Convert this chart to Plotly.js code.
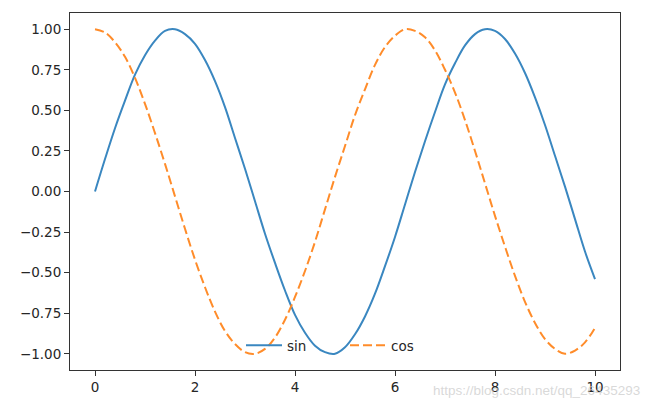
<!DOCTYPE html>
<html>
<head>
<meta charset="utf-8">
<script src="https://cdn.plot.ly/plotly-3.0.1.min.js"></script>
<style>html,body{margin:0;padding:0;background:#fff;}#chart{width:650px;height:408px;}</style>
</head>
<body>
<div id="chart"></div>
<script>
const xValues = [0,0.2,0.4,0.6,0.8,1.0,1.2,1.4,1.6,1.8,2.0,2.2,2.4,2.6,2.8,3.0,3.2,3.4,3.6,3.8,4.0,4.2,4.4,4.6,4.8,5.0,5.2,5.4,5.6,5.8,6.0,6.2,6.4,6.6,6.8,7.0,7.2,7.4,7.6,7.8,8.0,8.2,8.4,8.6,8.8,9.0,9.2,9.4,9.6,9.8,10.0];
const sinValues = [0.00,0.20,0.39,0.56,0.72,0.84,0.93,0.99,1.00,0.97,0.91,0.81,0.68,0.52,0.33,0.14,-0.06,-0.26,-0.44,-0.61,-0.76,-0.87,-0.95,-0.99,-1.00,-0.96,-0.88,-0.77,-0.63,-0.46,-0.28,-0.08,0.12,0.31,0.49,0.66,0.79,0.90,0.97,1.00,0.99,0.94,0.85,0.73,0.58,0.41,0.22,0.03,-0.17,-0.37,-0.54];
const cosValues = [1.00,0.98,0.92,0.83,0.70,0.54,0.36,0.17,-0.03,-0.23,-0.42,-0.59,-0.74,-0.86,-0.94,-0.99,-1.00,-0.97,-0.90,-0.79,-0.65,-0.49,-0.31,-0.11,0.09,0.28,0.47,0.63,0.78,0.89,0.96,1.00,0.99,0.95,0.87,0.75,0.61,0.44,0.25,0.05,-0.15,-0.34,-0.52,-0.68,-0.81,-0.91,-0.97,-1.00,-0.98,-0.93,-0.84];
const seriesNames = ['sin', 'cos'];
const xTicks = [0, 2, 4, 6, 8, 10];
const yTicks = [-1.00, -0.75, -0.50, -0.25, 0.00, 0.25, 0.50, 0.75, 1.00];
const yTickText = ['\u22121.00','\u22120.75','\u22120.50','\u22120.25','0.00','0.25','0.50','0.75','1.00'];

const traces = [
  {x: xValues, y: sinValues, name: seriesNames[0], mode: 'lines',
   line: {color: '#3a87c0', width: 2, shape: 'spline', smoothing: 1}},
  {x: xValues, y: cosValues, name: seriesNames[1], mode: 'lines',
   line: {color: '#ff8c2a', width: 2, dash: '9px,4px', shape: 'spline', smoothing: 1}}
];

const axisCommon = {
  showline: true, mirror: true, linecolor: '#333', linewidth: 1,
  ticks: 'outside', ticklen: 5, tickwidth: 1, tickcolor: '#333',
  showgrid: false, zeroline: false,
  tickfont: {family: 'DejaVu Sans', size: 13.5, color: '#262626'}
};

const layout = {
  width: 650, height: 408,
  margin: {l: 70, r: 30, t: 13, b: 38},
  paper_bgcolor: '#fff', plot_bgcolor: '#fff',
  showlegend: true,
  legend: {orientation: 'h', x: 0.5, xanchor: 'center', y: 0.025, yanchor: 'bottom',
           entrywidth: 53, itemwidth: 36,
           bgcolor: 'rgba(0,0,0,0)', font: {family: 'DejaVu Sans', size: 13.5, color: '#262626'}},
  xaxis: Object.assign({}, axisCommon, {range: [-0.5, 10.5], tickvals: xTicks, ticktext: xTicks.map(String)}),
  yaxis: Object.assign({}, axisCommon, {range: [-1.1, 1.1], tickvals: yTicks, ticktext: yTickText}),
  annotations: [{
    text: 'https://blog.csdn.net/qq_26435293', xref: 'paper', yref: 'paper',
    x: 1.04, y: -0.058, xanchor: 'right', yanchor: 'middle', showarrow: false,
    font: {family: 'Liberation Sans', size: 13.5, color: 'rgba(200,200,200,0.7)'}
  }]
};

Plotly.newPlot('chart', traces, layout, {displayModeBar: false, staticPlot: true});
</script>
</body>
</html>
